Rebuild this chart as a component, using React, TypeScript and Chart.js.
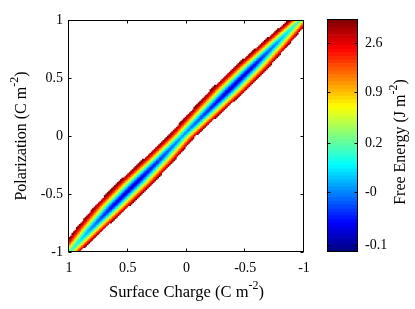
import React, { useEffect, useRef } from 'react';
import { Chart, registerables } from 'chart.js';
Chart.register(...registerables);

// ---- axis ticks ----
const xTickValues = [1, 0.5, 0, -0.5, -1];
const yTickValues = [-1, -0.5, 0, 0.5, 1];

// ---- free-energy band ----
// polarization positions along the band
const bandP = [-1, -0.8, -0.6, -0.4, -0.2, 0, 0.2, 0.4, 0.6, 0.8, 1];
// surface charge at the band's centre for each polarization
const bandSigma = [1.0, 0.82, 0.63, 0.43, 0.23, 0.04, -0.16, -0.36, -0.56, -0.76, -0.96];
// colour level (0..1 on the colour bar) at the band's centre
const bandMinLevel = [0.45, 0.25, 0.1, 0.07, 0.16, 0.27, 0.16, 0.07, 0.1, 0.25, 0.45];
// rise of the colour level with distance from the centre (surface charge units)
const acrossOffset = [0, 0.018, 0.035, 0.053, 0.07, 0.088, 0.106, 0.123, 0.141, 0.158];
const acrossLevel = [0, 0.08, 0.2, 0.33, 0.45, 0.57, 0.68, 0.79, 0.89, 0.98];

// ---- colour bar ----
const cbTickLevels = [0.03, 0.257, 0.468, 0.69, 0.9];
const cbTickLabels = ['-0.1', '-0', '0.2', '0.9', '2.6'];
const cbSteps = 64;

const FONT = '"Liberation Serif", "Times New Roman", serif';
const GRID = 0.0125;

function interp(xs: number[], ys: number[], x: number, extrapolate = false): number {
  const n = xs.length;
  if (x <= xs[0]) return ys[0];
  if (x >= xs[n - 1]) {
    if (!extrapolate) return ys[n - 1];
    const s = (ys[n - 1] - ys[n - 2]) / (xs[n - 1] - xs[n - 2]);
    return ys[n - 1] + s * (x - xs[n - 1]);
  }
  for (let i = 1; i < n; i++) {
    if (x <= xs[i]) {
      const t = (x - xs[i - 1]) / (xs[i] - xs[i - 1]);
      return ys[i - 1] + t * (ys[i] - ys[i - 1]);
    }
  }
  return ys[n - 1];
}

function jet(t: number): string {
  const cl = (v: number) => Math.max(0, Math.min(1, v));
  const r = cl(Math.min(4 * t - 1.5, -4 * t + 4.5));
  const g = cl(Math.min(4 * t - 0.5, -4 * t + 3.5));
  const b = cl(Math.min(4 * t + 0.5, -4 * t + 2.5));
  return `rgb(${Math.round(r * 255)},${Math.round(g * 255)},${Math.round(b * 255)})`;
}

function buildCells() {
  const pts: { x: number; y: number }[] = [];
  const cols: string[] = [];
  const n = Math.round(2 / GRID);
  for (let j = 0; j < n; j++) {
    const P = -1 + GRID / 2 + j * GRID;
    const sc = interp(bandP, bandSigma, P);
    const base = interp(bandP, bandMinLevel, P);
    for (let i = 0; i < n; i++) {
      const s = -1 + GRID / 2 + i * GRID;
      const d = Math.abs(s - sc);
      const lvl = base + interp(acrossOffset, acrossLevel, d, true);
      if (lvl <= 1) {
        pts.push({ x: s, y: P });
        cols.push(jet(lvl));
      }
    }
  }
  return { pts, cols };
}

function drawSupLabel(ctx: CanvasRenderingContext2D, x: number, y: number, rot: number,
  main: string, sup: string, tail: string, size: number) {
  ctx.save();
  ctx.translate(x, y);
  ctx.rotate(rot);
  const f = `${size}px ${FONT}`;
  const fs = `${Math.round(size * 0.72)}px ${FONT}`;
  ctx.font = f;
  const w1 = ctx.measureText(main).width;
  const w3 = ctx.measureText(tail).width;
  ctx.font = fs;
  const w2 = ctx.measureText(sup).width;
  let cx = -(w1 + w2 + w3) / 2;
  ctx.fillStyle = '#000';
  ctx.textAlign = 'left';
  ctx.textBaseline = 'middle';
  ctx.font = f;
  ctx.fillText(main, cx, 0);
  cx += w1;
  ctx.font = fs;
  ctx.fillText(sup, cx, -size * 0.42);
  cx += w2;
  ctx.font = f;
  ctx.fillText(tail, cx, 0);
  ctx.restore();
}

const mainFrame = {
  id: 'mainFrame',
  afterDraw(chart: any) {
    const { ctx, chartArea: a, scales } = chart;
    ctx.save();
    ctx.strokeStyle = '#000';
    ctx.lineWidth = 1;
    const L = Math.round(a.left) - 0.5, R = Math.round(a.right) - 0.5;
    const T = Math.round(a.top) + 0.5, B = Math.round(a.bottom) - 0.5;
    ctx.strokeRect(L, T, R - L, B - T);
    ctx.beginPath();
    const tl = 3;
    for (const v of xTickValues) {
      const px = Math.round(scales.x.getPixelForValue(v)) - 0.5;
      ctx.moveTo(px, B); ctx.lineTo(px, B - tl);
      ctx.moveTo(px, T); ctx.lineTo(px, T + tl);
    }
    for (const v of yTickValues) {
      const py = Math.round(scales.y.getPixelForValue(v)) + 0.5;
      ctx.moveTo(L, py); ctx.lineTo(L + tl, py);
      ctx.moveTo(R, py); ctx.lineTo(R - tl, py);
    }
    ctx.stroke();
    ctx.restore();
    drawSupLabel(ctx, (a.left + a.right) / 2, 293, 0, 'Surface Charge (C m', '-2', ')', 16.5);
    drawSupLabel(ctx, 22, (a.top + a.bottom) / 2, -Math.PI / 2, 'Polarization (C m', '-2', ')', 16);
  },
};

const cbFrame = {
  id: 'cbFrame',
  afterDraw(chart: any) {
    const { ctx, chartArea: a, scales } = chart;
    ctx.save();
    ctx.strokeStyle = '#000';
    ctx.lineWidth = 1;
    const L = Math.round(a.left) - 0.5, R = Math.round(a.right) - 0.5;
    const T = Math.round(a.top) - 0.5, B = Math.round(a.bottom) - 0.5;
    ctx.strokeRect(L, T, R - L, B - T);
    ctx.beginPath();
    for (const v of cbTickLevels) {
      const py = Math.round(scales.y.getPixelForValue(v)) + 0.5;
      ctx.moveTo(L, py); ctx.lineTo(L + 3, py);
      ctx.moveTo(R, py); ctx.lineTo(R - 3, py);
    }
    ctx.stroke();
    ctx.restore();
    drawSupLabel(ctx, 91, 142, -Math.PI / 2, 'Free Energy (J m', '-2', ')', 16);
  },
};

export default function App() {
  const mainRef = useRef<HTMLCanvasElement>(null);
  const cbRef = useRef<HTMLCanvasElement>(null);

  useEffect(() => {
    const { pts, cols } = buildCells();
    const tickFont = { family: FONT, size: 14 };
    const main = new Chart(mainRef.current!, {
      type: 'scatter',
      data: {
        datasets: [{
          data: pts,
          pointStyle: 'rect',
          pointRadius: 1.6,
          pointHoverRadius: 1.6,
          pointBorderWidth: 0,
          pointBackgroundColor: cols,
          clip: 0,
        } as any],
      },
      options: {
        animation: false,
        responsive: false,
        devicePixelRatio: 1,
        events: [],
        layout: { padding: { left: 0, top: 20, right: 111, bottom: 0 } },
        plugins: { legend: { display: false }, tooltip: { enabled: false } },
        scales: {
          x: {
            type: 'linear', min: -1, max: 1, reverse: true,
            grid: { display: false, drawTicks: false },
            border: { display: false },
            ticks: { color: '#000', font: tickFont, padding: 8, callback: (v: any) => String(Number(v)) },
            afterBuildTicks: (s: any) => { s.ticks = xTickValues.map((v) => ({ value: v })); },
            afterFit: (s: any) => { s.height = 57; },
          },
          y: {
            type: 'linear', min: -1, max: 1,
            grid: { display: false, drawTicks: false },
            border: { display: false },
            ticks: { color: '#000', font: tickFont, padding: 6, callback: (v: any) => String(Number(v)) },
            afterBuildTicks: (s: any) => { s.ticks = yTickValues.map((v) => ({ value: v })); },
            afterFit: (s: any) => { s.width = 69; },
          },
        },
      } as any,
      plugins: [mainFrame],
    });

    const cbDatasets = [];
    for (let i = 0; i < cbSteps; i++) {
      cbDatasets.push({
        data: [1 / cbSteps],
        backgroundColor: jet((i + 0.5) / cbSteps),
        borderWidth: 0,
        barPercentage: 1,
        categoryPercentage: 1,
        stack: 's',
      });
    }
    const cb = new Chart(cbRef.current!, {
      type: 'bar',
      data: { labels: [''], datasets: cbDatasets as any },
      options: {
        animation: false,
        responsive: false,
        devicePixelRatio: 1,
        events: [],
        layout: { padding: { left: 18, top: 20, right: 0, bottom: 57 } },
        plugins: { legend: { display: false }, tooltip: { enabled: false } },
        scales: {
          x: { display: false, stacked: true },
          y: {
            position: 'right', stacked: true, min: 0, max: 1,
            grid: { display: false, drawTicks: false },
            border: { display: false },
            ticks: { color: '#000', font: tickFont, padding: 7, callback: (_v: any, i: number) => cbTickLabels[i] },
            afterBuildTicks: (s: any) => { s.ticks = cbTickLevels.map((v) => ({ value: v })); },
            afterFit: (s: any) => { s.width = 57; },
          },
        },
      } as any,
      plugins: [cbFrame],
    });

    return () => { main.destroy(); cb.destroy(); };
  }, []);

  return (
    <div style={{ position: 'absolute', left: 0, top: 0, width: 415, height: 309, background: '#fff' }}>
      <canvas ref={mainRef} width={415} height={309} style={{ position: 'absolute', left: 0, top: 0 }} />
      <canvas ref={cbRef} width={105} height={309} style={{ position: 'absolute', left: 310, top: 0 }} />
    </div>
  );
}
